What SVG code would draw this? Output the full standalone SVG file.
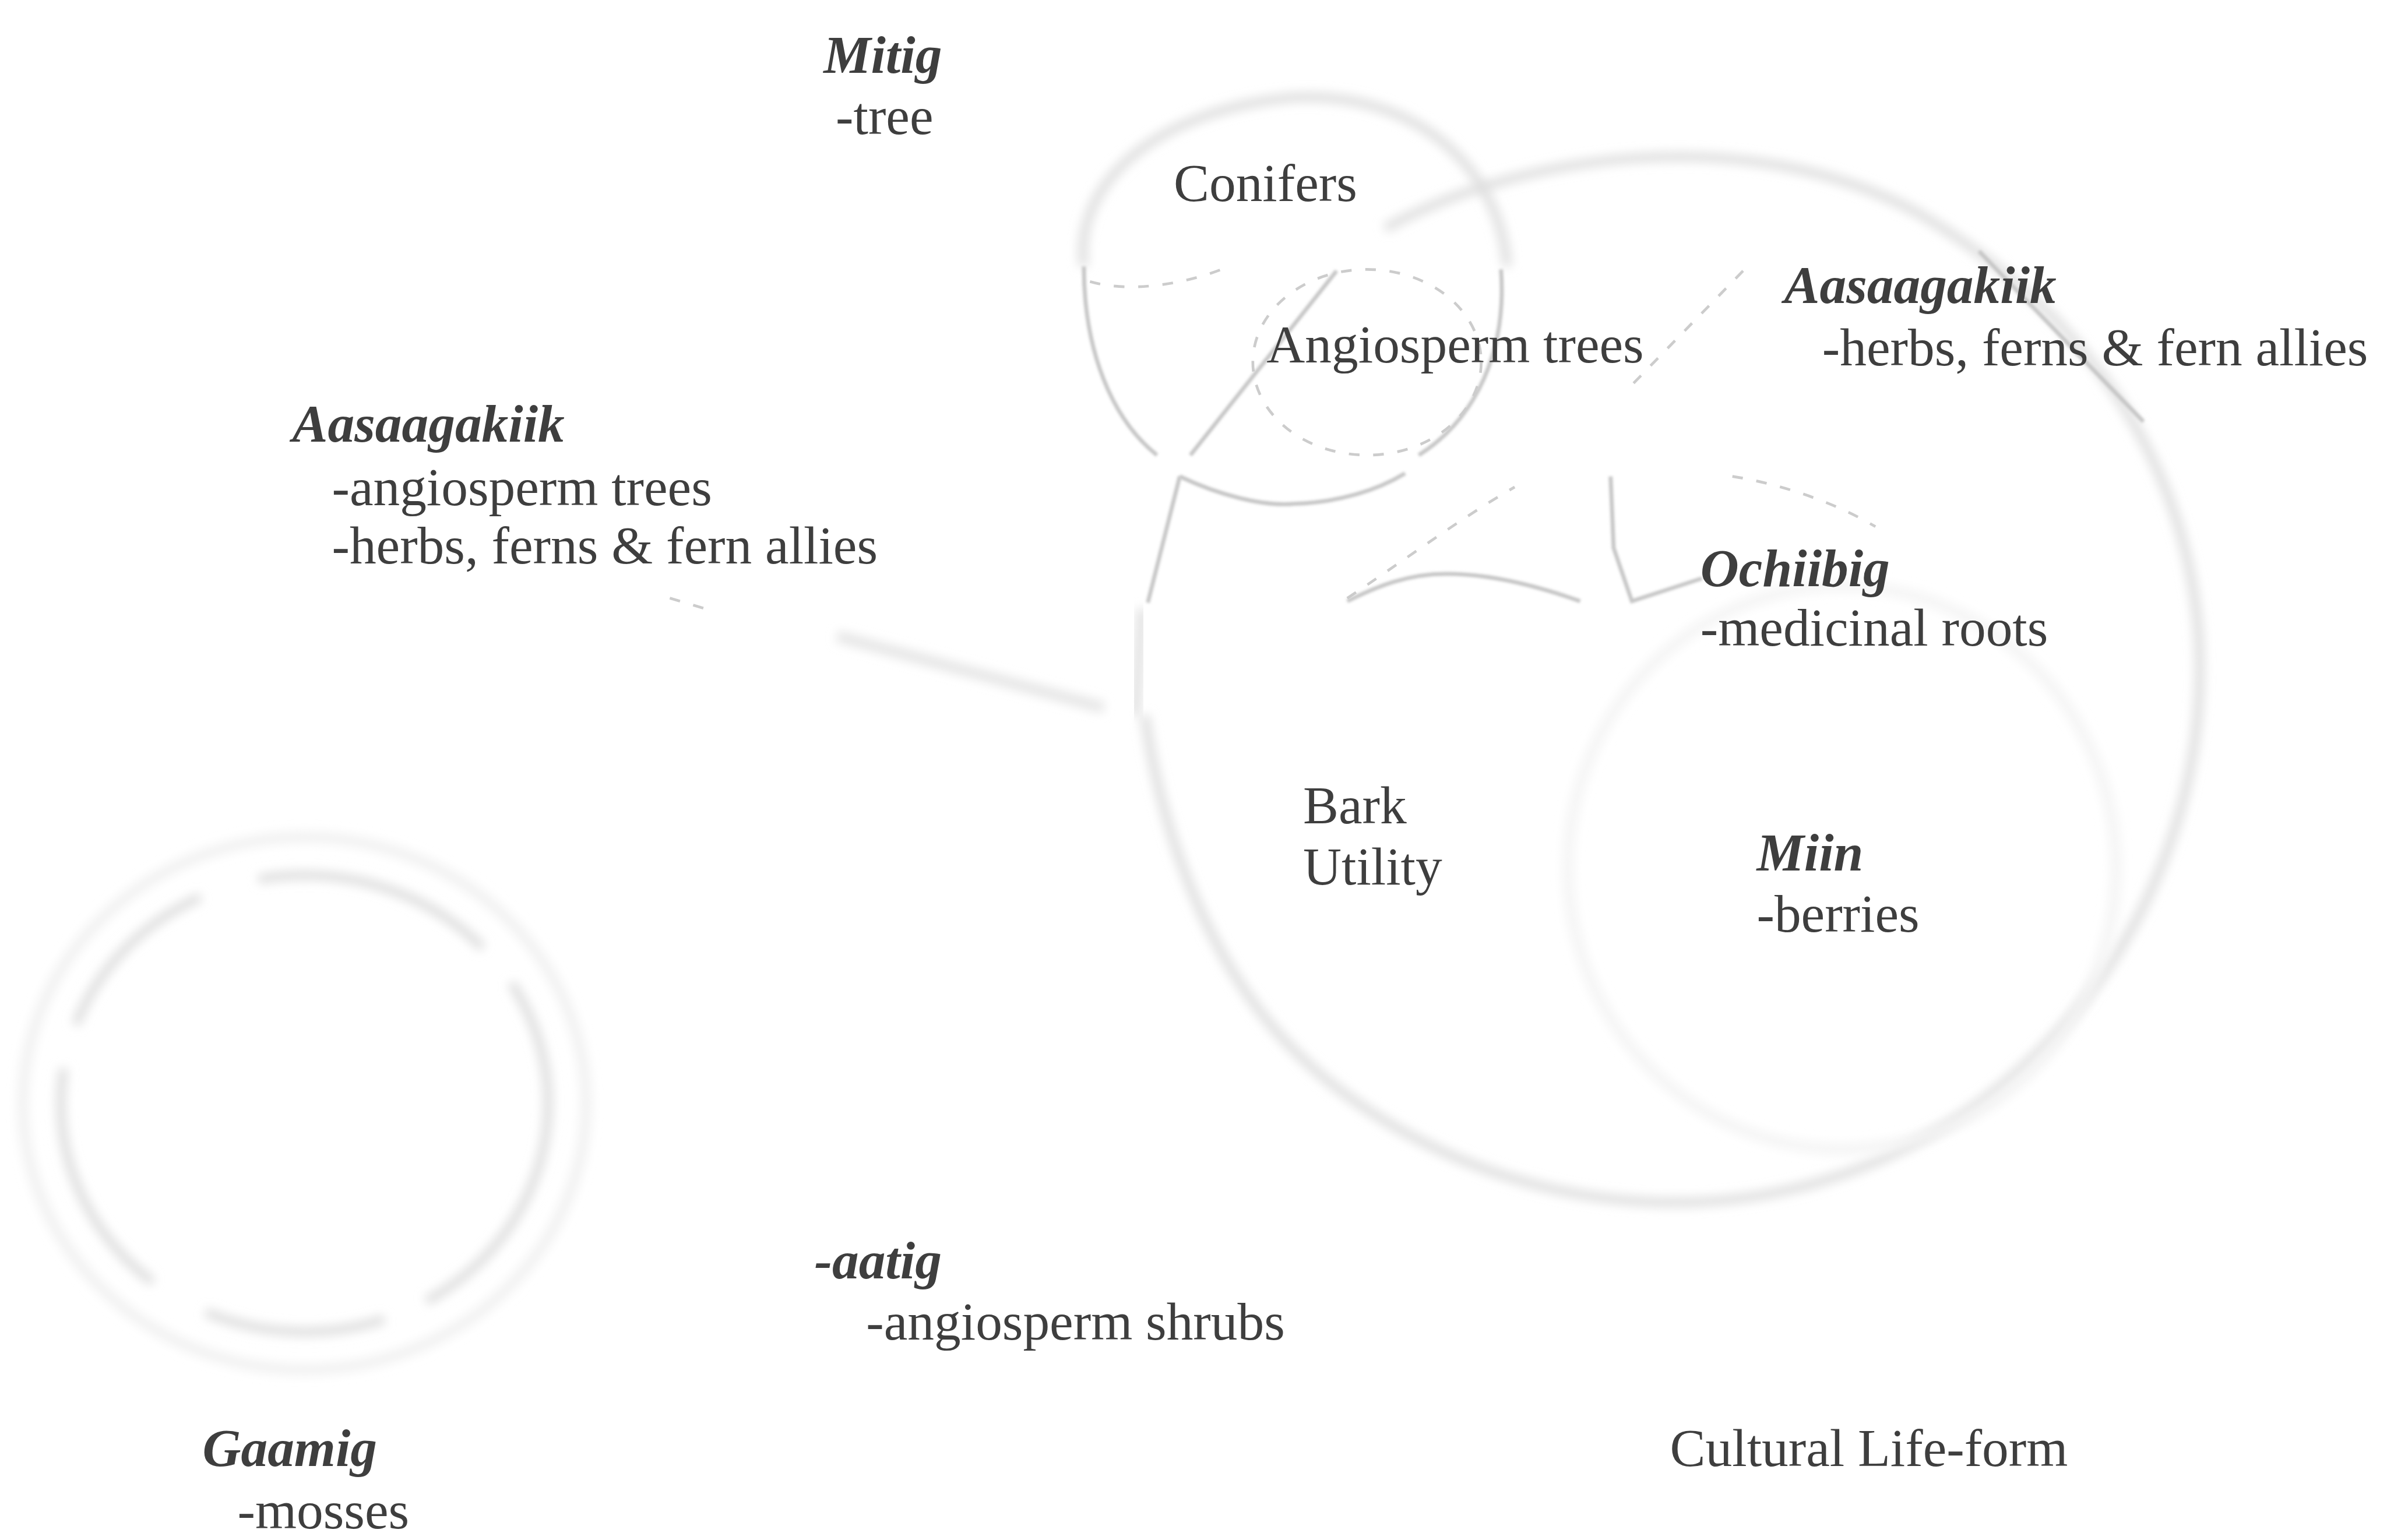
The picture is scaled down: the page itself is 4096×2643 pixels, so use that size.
<svg xmlns="http://www.w3.org/2000/svg" width="4096" height="2643" viewBox="0 0 4096 2643">
<defs>
<filter id="blur" x="-20%" y="-20%" width="140%" height="140%"><feGaussianBlur stdDeviation="3.5"/></filter>
<filter id="soft" x="-20%" y="-20%" width="140%" height="140%"><feGaussianBlur stdDeviation="0.8"/></filter>
</defs>
<style>
.t{font-family:"Liberation Serif","Times New Roman",serif;font-size:35px;fill:#3e3e3e}
.b{font-style:italic;font-weight:bold}
.halo{fill:none;stroke:#dedede;stroke-width:6;filter:url(#blur)}
.faint{fill:none;stroke:#f1f1f1;stroke-width:7;filter:url(#blur)}
.sharp{fill:none;stroke:#c6c6c6;stroke-width:2.6;filter:url(#soft)}
.dash{fill:none;stroke:#cccccc;stroke-width:1.8;stroke-dasharray:7 9}
</style>
<rect width="4096" height="2643" fill="#ffffff"/>
<g transform="scale(2.6122)">
<g id="shape-gaamig">
<ellipse class="faint" cx="200" cy="725" rx="185" ry="175"/>
<ellipse class="halo" cx="200" cy="725" rx="160" ry="150" stroke-dasharray="160 30 120 40"/>
</g>
<g id="shape-conifers">
<path class="halo" d="M712,175 C705,120 760,72 850,64 C930,60 985,110 990,175"/>
<path class="sharp" d="M712,175 C712,230 730,275 760,299"/>
<path class="sharp" d="M986,177 C990,230 970,275 932,299"/>
<path class="dash" d="M716,185 C740,192 775,188 805,176"/>
</g>
<g id="shape-angiosperm">
<ellipse class="dash" cx="898" cy="238" rx="75" ry="61"/>
</g>
<g id="shape-cultural">
<path class="halo" d="M910,150 C1000,100 1150,80 1260,140 C1380,210 1445,320 1445,440 C1445,620 1300,790 1100,790 C990,790 900,740 850,690 C800,640 765,560 752,470"/>
<ellipse class="faint" cx="1210" cy="570" rx="180" ry="185" style="stroke:#f4f4f4"/>
</g>
<g id="connectors">
<path class="sharp" d="M878,178 L782,299"/>
<path class="sharp" d="M775,313 C800,325 830,333 850,331 C880,330 905,322 923,311"/>
<path class="sharp" d="M775,313 L754,396"/>
<path class="halo" d="M750,400 L746,470"/>
<path class="dash" d="M1145,178 L1067,258"/>
<path class="sharp" d="M1058,313 L1060,360 L1072,395 L1118,380" stroke-width="1.6"/>
<path class="dash" d="M885,393 C920,370 960,340 995,320"/>
<path class="sharp" d="M885,395 C905,385 925,377 950,377 C980,377 1010,385 1038,395" stroke-width="1.8"/>
<path class="dash" d="M1138,313 C1170,318 1205,330 1232,346"/>
<path class="sharp" d="M1300,165 L1408,277" stroke-width="2.2"/>
<path class="faint" d="M550,418 L725,465" style="stroke:#e4e4e4"/>
<path class="dash" d="M440,393 L470,402"/>
</g>
<g id="node-mitig"><text class="t b" x="541" y="48">Mitig</text><text class="t" x="549" y="88">-tree</text></g>
<g id="node-conifers"><text class="t" x="771" y="132">Conifers</text></g>
<g id="node-angiosperm-trees"><text class="t" x="832" y="238">Angiosperm trees</text></g>
<g id="node-aasaagakiik-right"><text class="t b" x="1172" y="199">Aasaagakiik</text><text class="t" x="1197" y="240">-herbs, ferns &amp; fern allies</text></g>
<g id="node-aasaagakiik-left"><text class="t b" x="192" y="290">Aasaagakiik</text><text class="t" x="218" y="332">-angiosperm trees</text><text class="t" x="218" y="370">-herbs, ferns &amp; fern allies</text></g>
<g id="node-ochiibig"><text class="t b" x="1117" y="385">Ochiibig</text><text class="t" x="1117" y="424">-medicinal roots</text></g>
<g id="node-bark"><text class="t" x="856" y="541">Bark</text><text class="t" x="856" y="581">Utility</text></g>
<g id="node-miin"><text class="t b" x="1154" y="572">Miin</text><text class="t" x="1154" y="612">-berries</text></g>
<g id="node-aatig"><text class="t b" x="535" y="840">-aatig</text><text class="t" x="569" y="880">-angiosperm shrubs</text></g>
<g id="node-gaamig"><text class="t b" x="133" y="963">Gaamig</text><text class="t" x="156" y="1004">-mosses</text></g>
<g id="node-cultural"><text class="t" x="1097" y="963">Cultural Life-form</text></g>
</g>
</svg>
